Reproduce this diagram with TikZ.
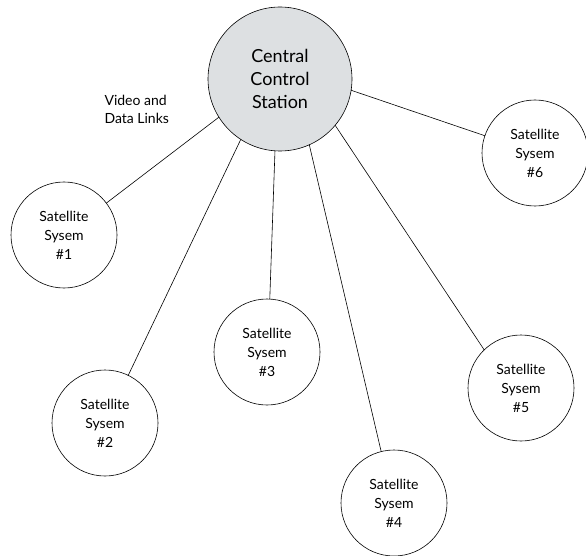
\documentclass[tikz,border=0pt]{standalone}
\usepackage{fontspec}
\setmainfont{Lato}
\setsansfont{Lato}
\usepackage{tikz}
\usepackage{tkz-graph}
\usepackage{xcolor}

\definecolor{stationgray}{RGB}{221,224,226}

\begin{document}
\begin{tikzpicture}[x=1pt,y=-1pt]
					%\draw[help lines] (0,0) grid (586,556);
					\useasboundingbox (0,0) rectangle (586,556);
					\SetVertexNormal[
					Shape 		= circle,
					LineWidth 	= 0.6pt,
					FillColor 	= white]
					\tikzset{VertexStyle/.append style={align=center, minimum size=106pt,
						inner sep=0pt, font=\fontsize{14}{19}\selectfont}}
					
					{\tikzset{VertexStyle/.append style={fill=stationgray, minimum size=144pt,
						font=\fontsize{18}{23}\selectfont}}
					\Vertex[x=280,y=79,L={Central\\Control\\Station}]{CCS}}
					\Vertex[x=64,y=235,L={Satellite\\Sysem\\\#1}]{S1}
					\Vertex[x=105,y=423,L={Satellite\\Sysem\\\#2}]{S2}
					\Vertex[x=267,y=352,L={Satellite\\Sysem\\\#3}]{S3}
					\Vertex[x=394,y=503,L={Satellite\\Sysem\\\#4}]{S4}
					\Vertex[x=521,y=388,L={Satellite\\Sysem\\\#5}]{S5}
					\Vertex[x=535,y=153,L={Satellite\\Sysem\\\#6}]{S6}
					
					% links leave the station at fixed angles
					\foreach \v/\a/\b in {S1/212/37, S2/237/64, S3/266/87, S4/294/104, S5/320/134, S6/351/161}
						\draw[line width=0.6pt] (CCS.\a) -- (\v.\b);
					
					\node[anchor=west, align=left, font=\fontsize{14}{18}\selectfont] (links) at (101,109) {Video and\\Data Links};
				\end{tikzpicture}
\end{document}
